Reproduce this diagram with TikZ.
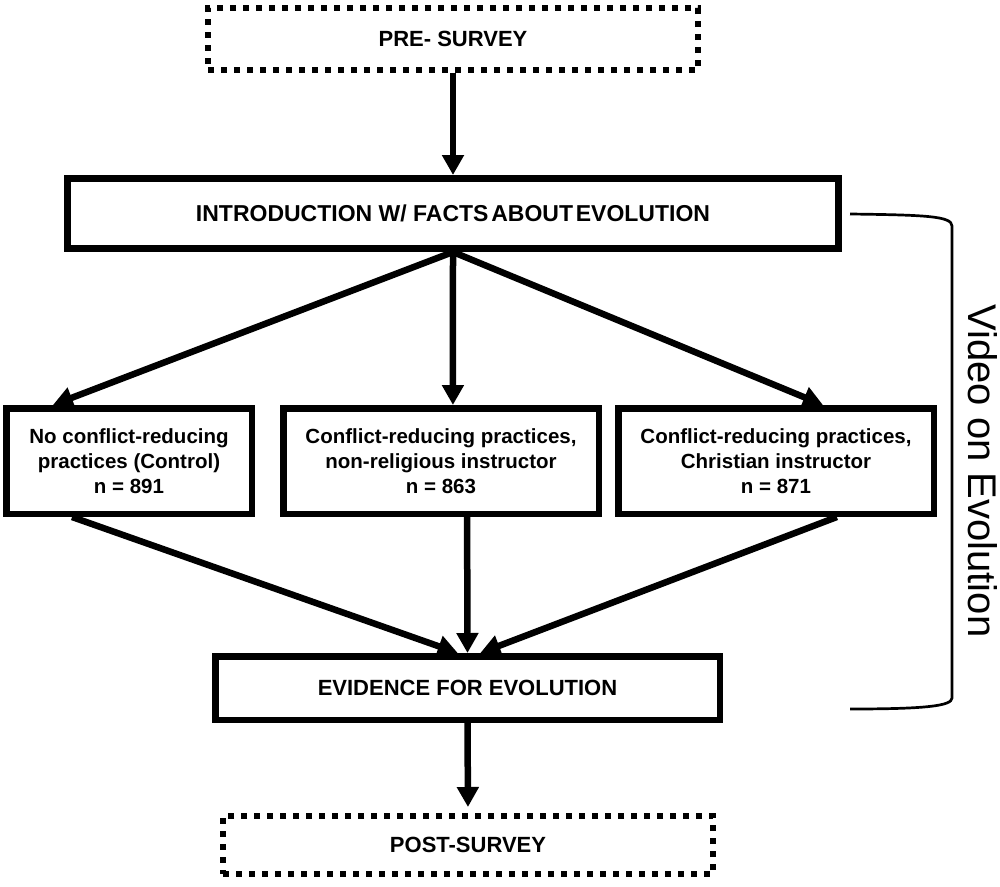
\documentclass[tikz,border=0pt]{standalone}
\usepackage{fontspec}
\setmainfont{Liberation Sans}
\usetikzlibrary{arrows.meta,calc}
\begin{document}
\begin{tikzpicture}[x=1pt,y=-1pt,
  bigbox/.style={draw,line width=7pt,inner sep=0pt,align=center,
    font=\bfseries\fontsize{22}{26}\selectfont},
  grpbox/.style={draw,line width=6.5pt,inner sep=0pt,align=center,
    minimum width=315.5pt,minimum height=105.5pt,
    font=\bfseries\fontsize{20.5}{25}\selectfont},
  dotbox/.style={draw,line width=6pt,dash pattern=on 6pt off 7pt,inner sep=0pt,
    align=center,font=\bfseries\fontsize{22}{26}\selectfont},
  conn/.style={line width=6.5pt,-{Triangle[length=20pt,width=21pt]}},
  brk/.style={line width=2.7pt}
]
\useasboundingbox (0,0) rectangle (1000,886);

\node[dotbox,minimum width=490pt,minimum height=62pt] (pre) at (453,39) {PRE- SURVEY};
\node[bigbox,minimum width=771pt,minimum height=70pt,font=\bfseries\fontsize{23}{27}\selectfont] (intro) at (453,213.5)
  {INTRODUCTION W/ FACTS\hspace{0.12em}ABOUT\hspace{0.12em}EVOLUTION};
\node[grpbox,minimum width=245.5pt] (left) at (129,461)
  {No conflict-reducing\\practices (Control)\\n = 891};
\node[grpbox] (mid) at (441,461)
  {Conflict-reducing practices,\\non-religious instructor\\n = 863};
\node[grpbox] (right) at (776,461)
  {Conflict-reducing practices,\\Christian instructor\\n = 871};
\node[bigbox,line width=6.5pt,minimum width=504.5pt,minimum height=63.5pt] (evid) at (467.5,688)
  {EVIDENCE FOR EVOLUTION};
\node[dotbox,minimum width=490pt,minimum height=58pt] (post) at (468,845) {POST-SURVEY};

\draw[conn] (pre.south) -- (intro.north);
\draw[conn] (intro.south) -- ($(left.north west)!0.198!(left.north east)$);
\draw[conn] (intro.south) -- ($(mid.north west)!0.537!(mid.north east)$);
\draw[conn] (intro.south) -- ($(right.north west)!0.646!(right.north east)$);
\draw[conn] ($(left.south west)!0.274!(left.south east)$) -- ($(evid.north west)!0.481!(evid.north east)$);
\draw[conn] ($(mid.south west)!0.581!(mid.south east)$) -- ($(evid.north west)!0.5!(evid.north east)$);
\draw[conn] ($(right.south west)!0.689!(right.south east)$) -- ($(evid.north west)!0.525!(evid.north east)$);
\draw[conn,shorten >=6pt] (evid.south) -- (post.north);

\coordinate (brtop) at (850,214);
\coordinate (brbot) at (850,709);
\draw[brk] (brtop) .. controls (925,215) and (952,216) .. (952,226)
  -- (952,698) .. controls (952,706) and (925,709) .. (brbot);
\node[rotate=-90,anchor=base,inner sep=0pt,font=\fontsize{40}{48}\selectfont] (video)
  at (968,471) {Video on Evolution};
\end{tikzpicture}
\end{document}
